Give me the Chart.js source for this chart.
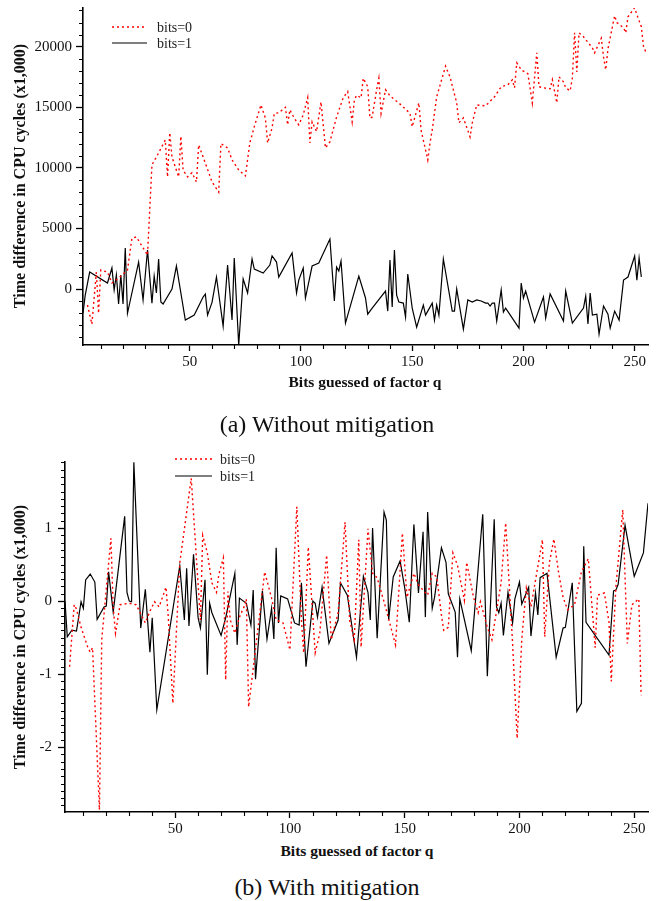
<!DOCTYPE html>
<html>
<head>
<meta charset="utf-8">
<script src="https://cdn.jsdelivr.net/npm/chart.js@4/dist/chart.umd.min.js"></script>
<style>
  html, body { margin: 0; padding: 0; background: #fff; }
  body { width: 660px; height: 901px; position: relative; overflow: hidden;
         font-family: "Liberation Serif", "Times New Roman", serif; color: #111; }
  canvas { position: absolute; left: 0; }
  .t { position: absolute; white-space: nowrap; text-align: center; }
  .ytitle { font-weight: bold; font-size: 16px; width: 400px; height: 18px; line-height: 18px; transform: rotate(-90deg); }
  .xtitle { font-weight: bold; font-size: 15.5px; width: 300px; height: 18px; line-height: 18px; }
  .cap { font-size: 24px; width: 400px; height: 28px; line-height: 28px; }
</style>
</head>
<body>
<canvas id="chartA" width="660" height="400" style="top:0"></canvas>
<canvas id="chartB" width="660" height="400" style="top:440px"></canvas>

<div class="t ytitle" style="left:-180px;top:167px">Time difference in CPU cycles (x1,000)</div>
<div class="t xtitle" style="left:215px;top:373px">Bits guessed of factor q</div>
<div class="t cap" style="left:127px;top:410px">(a) Without mitigation</div>

<div class="t ytitle" style="left:-180px;top:628px">Time difference in CPU cycles (x1,000)</div>
<div class="t xtitle" style="left:207px;top:842px">Bits guessed of factor q</div>
<div class="t cap" style="left:127px;top:873px">(b) With mitigation</div>

<script>
// ---- (a) without mitigation: timing difference per guessed bit ----
const noMitBits0X = [4,6,8,9,10,13,15,18,22,24,26,29,31,33,35,39,40,41,42,45,46,47,49,51,53,54,56,60,63,64,67,69,72,75,77,79,82,84,85,87,88,90,93,94,95,97,99,101,103,104,105,107,109,111,113,116,119,121,123,124,125,127,128,130,131,132,134,135,136,138,140,145,149,150,153,154,157,158,159,161,165,167,170,171,173,176,177,179,183,187,190,193,195,196,197,199,202,204,206,207,209,212,213,215,216,218,219,221,222,223,224,225,227,231,232,235,236,237,238,240,241,242,245,246,247,250,251,253,254,255];
const noMitBits0Y = [-1320,-2900,1400,-2000,1570,1400,500,900,1570,4200,4300,3400,2800,10250,10900,12300,9260,12900,10900,9260,12600,9800,9260,9600,8850,11900,10900,8850,8000,12000,11650,10660,9830,9340,12060,13400,15200,14100,12060,13300,14500,14550,15000,13550,14800,14100,13550,14380,15800,12060,13800,13000,15450,11650,12150,14200,15800,16300,13800,15600,16000,15780,17400,16700,14100,14200,16450,17400,14500,16450,15950,15200,14500,13400,15370,13100,10660,12060,13140,15870,18400,17500,15370,13720,14130,12560,13720,15200,15120,15870,16700,16860,17270,16610,18680,18100,17770,15370,19500,16700,16610,16530,17270,15370,17520,17100,16610,16360,17440,21150,17930,21150,20830,19900,19500,20700,19170,18100,19830,21650,22560,22000,21570,21150,22480,23220,22650,21650,20000,19590];

const noMitBits1X = [2,3,5,13,15,16,17,18,19,20,21,22,27,29,31,33,34,35,36,37,38,42,44,48,52,56,57,58,60,62,65,67,69,70,72,74,76,78,79,83,86,87,89,90,96,98,99,101,102,105,108,113,115,116,117,118,120,126,129,130,132,138,139,140,141,142,143,144,146,147,148,150,152,155,156,158,159,160,161,162,164,168,169,170,173,175,177,179,181,183,184,185,186,187,188,190,191,192,198,199,200,201,205,209,210,212,218,219,222,227,228,229,230,231,233,234,236,238,239,241,243,245,247,250,251,252,253];
const noMitBits1Y = [-2000,-500,1400,500,1740,-80,1160,-1240,1160,-1240,3390,-2000,2230,-900,3220,-1160,1070,-330,2480,-1070,-1240,0,1900,-2560,-2150,-660,-410,-2150,-1100,990,-3060,1980,-2560,2560,-4630,830,-330,2480,1650,1320,1980,2730,2230,990,2980,-330,740,1740,-740,1900,2150,4130,-990,1820,1490,2310,-2810,1070,-740,-2070,-1570,-170,-1820,2400,-1490,3220,-500,-1070,-1160,-2310,1240,-1570,-3140,-1320,-2150,-1490,-1160,-2560,-1320,-2150,2480,-1820,-1820,0,-3310,-900,-1070,-900,-990,-1160,-1160,-1400,-1160,-1160,-2640,-80,-1900,-1570,-3220,500,-740,-170,-2730,-660,-2400,-410,-2640,-170,-2810,-1570,-580,-2890,-330,-2150,-2070,-3720,-1400,-2070,-3220,-1820,-2560,740,990,2730,740,2560,990];

// ---- (b) with mitigation ----
const mitBits0X = [4,6,7,9,12,13,14,17,18,22,23,24,26,28,30,33,37,39,41,43,46,47,49,52,57,61,62,64,66,68,69,71,72,73,74,76,78,80,81,82,89,92,94,97,100,103,105,106,108,111,113,116,118,121,124,126,128,130,131,134,136,138,141,146,149,151,154,156,160,162,164,166,167,169,171,173,176,177,180,182,183,186,188,192,194,197,199,201,202,203,205,210,211,213,215,217,219,221,224,227,230,233,234,237,239,240,242,245,247,249,252,253];
const mitBits0Y = [-0.9,-0.05,-0.11,-0.36,-0.64,-0.70,-0.64,-2.86,-0.53,0.86,-0.08,-0.44,-0.05,-0.04,-0.03,-0.05,-0.30,-0.14,-0.01,-0.08,0.19,-0.22,-1.40,0.52,1.68,-0.26,0.9,0.66,0.25,0.12,0.36,0.59,-1.08,0.13,-0.26,-0.44,-0.22,-0.08,0.03,-1.45,0.4,0.04,-0.26,-0.3,-0.67,1.29,-0.26,-0.71,0.74,-0.71,-0.44,0.63,-0.53,-0.16,1.08,-0.26,-0.53,0.84,-0.63,0.99,0.38,0.32,-0.01,-0.6,0.93,0.05,0.38,0.22,0.08,0.38,0.33,-0.19,-0.4,-0.36,0.66,0.49,0.01,0.53,0.05,-0.16,-0.01,-0.36,-0.53,0.25,1.07,-0.58,-1.88,-0.53,-0.16,0.18,-0.08,0.84,-0.49,0.52,0.85,0.4,0.05,-0.12,-0.05,0.4,0.58,-0.64,0.08,0.11,-0.29,-1.10,0.19,1.25,-0.58,-0.05,0.03,-1.29];

const mitBits1X = [2,3,5,7,9,10,11,13,15,16,19,20,21,23,28,29,30,31,32,35,37,39,40,42,52,54,55,56,58,60,61,63,64,65,66,70,72,76,77,78,81,83,84,85,88,90,92,93,94,95,96,99,102,104,105,107,110,111,112,114,117,121,122,125,129,132,134,135,136,138,141,142,143,145,148,150,152,154,156,158,159,160,162,163,166,168,169,172,173,174,179,184,186,189,190,191,192,193,195,197,198,200,201,204,205,207,208,209,212,216,219,220,223,225,227,228,229,239,241,242,243,246,250,254,256];
const mitBits1Y = [0,-0.49,-0.40,-0.41,-0.01,-0.10,0.29,0.37,0.26,-0.25,-0.08,-0.07,0.40,-0.15,1.16,0.12,0,-0.01,1.90,-0.37,0.16,-0.70,-0.23,-1.49,0.48,-0.26,0.45,-0.34,0.64,-0.23,-0.37,0.29,-1.01,-0.03,-0.16,-0.47,-0.23,0.38,-0.60,0.04,-0.03,-0.33,0.15,-1.07,0.14,-0.52,-0.10,-0.52,0.73,-0.30,0.07,0.03,-0.30,-0.33,0.25,-0.90,0,-0.03,-0.22,0.19,-0.58,-0.26,0.25,0.08,-0.77,0.34,0.12,-0.26,1.0,-0.51,1.22,1.11,-0.26,0.33,0.55,0.18,-0.29,1.05,0.11,0.95,-0.22,1.22,-0.10,0.05,0.73,0.53,0.10,-0.15,-0.77,0.03,-0.68,1.19,-1.03,1.12,-0.08,-0.16,-0.03,-0.47,0.12,-0.30,0.03,0.26,-0.04,0.19,-0.48,0.11,-0.19,0.32,0.38,-0.77,-0.37,-0.36,0.25,-1.51,-1.40,0.75,-0.29,-0.74,0.14,0.15,0.23,1.04,0.34,0.66,1.34];

// ---- axis ticks ----
const xMajorTicks = [50, 100, 150, 200, 250];
const xMinorTicks = [10,20,30,40,60,70,80,90,110,120,130,140,160,170,180,190,210,220,230,240];
const noMitYMajor = [0, 5000, 10000, 15000, 20000];
const noMitYMinor = [-4000,-3000,-2000,-1000,1000,2000,3000,4000,6000,7000,8000,9000,11000,12000,13000,14000,16000,17000,18000,19000,21000,22000,23000];
const mitYMajor = [-2, -1, 0, 1];
const mitYMinor = [];
for (let i = -28; i <= 19; i++) { if (i % 10 !== 0) mitYMinor.push(i / 10); }

const seriesLabels = ['bits=0', 'bits=1'];

const pts = (xs, ys) => xs.map((x, i) => ({ x: x, y: ys[i] }));

// short outward ticks between the labelled ones
const minorTicksPlugin = {
  id: 'minorTicks',
  afterDraw(chart, args, opts) {
    const ctx = chart.ctx, xs = chart.scales.x, ys = chart.scales.y, a = chart.chartArea;
    ctx.save();
    ctx.strokeStyle = '#000';
    ctx.lineWidth = 1.1;
    ctx.beginPath();
    opts.x.forEach(v => {
      const px = Math.round(xs.getPixelForValue(v)) + 0.5;
      ctx.moveTo(px, a.bottom); ctx.lineTo(px, a.bottom + opts.len);
    });
    opts.y.forEach(v => {
      const py = Math.round(ys.getPixelForValue(v)) + 0.5;
      ctx.moveTo(a.left, py); ctx.lineTo(a.left - opts.len, py);
    });
    ctx.stroke();
    ctx.restore();
  }
};

// legend drawn as line samples with labels at a fixed spot
const lineLegendPlugin = {
  id: 'lineLegend',
  afterDraw(chart, args, opts) {
    const ctx = chart.ctx;
    ctx.save();
    chart.data.datasets.forEach((ds, i) => {
      const y = opts.y + i * opts.gap;
      ctx.beginPath();
      ctx.setLineDash(ds.borderDash || []);
      ctx.strokeStyle = ds.borderColor;
      ctx.lineWidth = ds.borderWidth;
      ctx.moveTo(opts.x, y); ctx.lineTo(opts.x + opts.len, y);
      ctx.stroke();
      ctx.setLineDash([]);
      ctx.fillStyle = '#222';
      ctx.font = opts.font;
      ctx.textBaseline = 'middle';
      ctx.fillText(ds.label, opts.x + opts.len + opts.textGap, y + 1);
    });
    ctx.restore();
  }
};

function buildChart(id, cfg) {
  return new Chart(document.getElementById(id), {
    type: 'line',
    data: {
      datasets: [
        { label: seriesLabels[0], data: pts(cfg.x0, cfg.y0), borderColor: '#ff0000', borderWidth: 1.4,
          borderDash: [2, 3], pointRadius: 0, tension: 0, fill: false },
        { label: seriesLabels[1], data: pts(cfg.x1, cfg.y1), borderColor: '#000000', borderWidth: 1.2,
          pointRadius: 0, tension: 0, fill: false }
      ]
    },
    options: {
      responsive: false,
      animation: false,
      events: [],
      layout: { padding: { left: 0, right: 12, top: cfg.padTop, bottom: 0 } },
      plugins: {
        legend: { display: false },
        tooltip: { enabled: false },
        minorTicks: { x: xMinorTicks, y: cfg.yMinor, len: 4 },
        lineLegend: cfg.legend
      },
      scales: {
        x: {
          type: 'linear', min: 2, max: 256,
          afterFit: sc => { sc.height = cfg.xAxisH; sc.paddingLeft = 0; sc.paddingRight = 0; },
          afterBuildTicks: sc => { sc.ticks = xMajorTicks.map(v => ({ value: v })); },
          grid: { drawOnChartArea: false, drawTicks: true, tickLength: 6, tickColor: '#000', tickWidth: 1.3 },
          border: { display: true, color: '#000', width: 1.6 },
          ticks: { color: '#111', padding: 2, maxRotation: 0, autoSkip: false,
                   font: { family: 'Liberation Serif', size: 15 }, callback: v => String(v) }
        },
        y: {
          type: 'linear', min: cfg.yMin, max: cfg.yMax,
          afterFit: sc => { sc.width = cfg.yAxisW; sc.paddingTop = 0; sc.paddingBottom = 0; },
          afterBuildTicks: sc => { sc.ticks = cfg.yMajor.map(v => ({ value: v })); },
          grid: { drawOnChartArea: false, drawTicks: true, tickLength: 7, tickColor: '#000', tickWidth: 1.3 },
          border: { display: true, color: '#000', width: 1.6 },
          ticks: { color: '#111', padding: cfg.yPad, autoSkip: false,
                   font: { family: 'Liberation Serif', size: 15 }, callback: v => String(v) }
        }
      }
    },
    plugins: [minorTicksPlugin, lineLegendPlugin]
  });
}

buildChart('chartA', {
  x0: noMitBits0X, y0: noMitBits0Y, x1: noMitBits1X, y1: noMitBits1Y,
  yMin: -4620, yMax: 23200, yMajor: noMitYMajor, yMinor: noMitYMinor,
  padTop: 8, xAxisH: 55, yAxisW: 83, yPad: 4,
  legend: { x: 112, y: 27, gap: 16, len: 35, textGap: 10, font: '14px "Liberation Serif"' }
});

buildChart('chartB', {
  x0: mitBits0X, y0: mitBits0Y, x1: mitBits1X, y1: mitBits1Y,
  yMin: -2.89, yMax: 1.905, yMajor: mitYMajor, yMinor: mitYMinor,
  padTop: 22, xAxisH: 28, yAxisW: 65, yPad: 6,
  legend: { x: 175, y: 19, gap: 17, len: 37, textGap: 8, font: '14px "Liberation Serif"' }
});
</script>
</body>
</html>
